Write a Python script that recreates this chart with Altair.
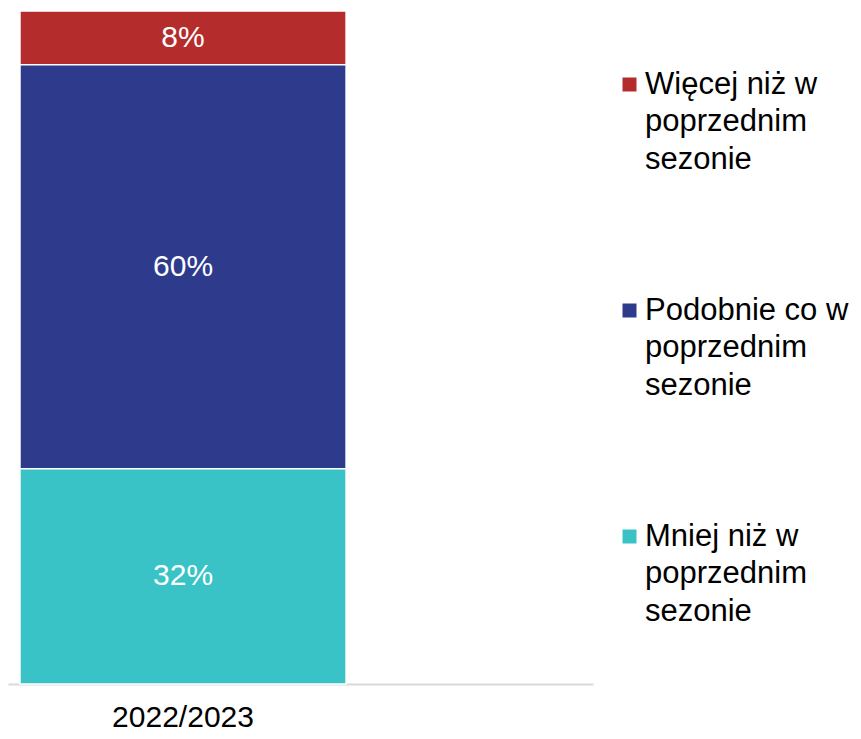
import altair as alt
import pandas as pd

season = ["2022/2023", "2022/2023", "2022/2023"]
categories = ["Więcej niż w\npoprzednim\nsezonie",
              "Podobnie co w\npoprzednim\nsezonie",
              "Mniej niż w\npoprzednim\nsezonie"]
values = [8, 60, 32]
stack_order = [3, 2, 1]
colors = ["#B52C2C", "#2E3A8C", "#3AC3C6"]
labels = ["8%", "60%", "32%"]

df = pd.DataFrame({"season": season, "cat": categories, "value": values,
                   "ord": stack_order, "label": labels})

base = alt.Chart(df).transform_stack(
    stack="value", groupby=["season"], as_=["v0", "v1"],
    sort=[alt.SortField("ord", order="ascending")]
).transform_calculate(mid="(datum.v0 + datum.v1) / 2")

xenc = alt.X("season:N",
             scale=alt.Scale(paddingInner=0, paddingOuter=0.397, align=0.0463),
             axis=alt.Axis(title=None, domainColor="#d9d9d9", domainWidth=2,
                           ticks=False, labelFontSize=30, labelColor="black",
                           labelAngle=0, labelPadding=18, labelFont="Liberation Sans"))
yscale = alt.Scale(domain=[0, 100], nice=False, zero=True)

bars = base.mark_bar(stroke="white", strokeWidth=1.5).encode(
    x=xenc,
    y=alt.Y("v0:Q", scale=yscale, axis=None),
    y2="v1:Q",
    color=alt.Color("cat:N",
                    scale=alt.Scale(domain=categories, range=colors),
                    legend=alt.Legend(title=None, orient="none", legendX=606, legendY=58,
                                      symbolType="square", symbolSize=196,
                                      symbolStrokeWidth=0, labelFontSize=31,
                                      labelFont="Liberation Sans", labelColor="black",
                                      labelLimit=400, labelOffset=0, rowPadding=119,
                                      labelBaseline="middle", padding=0,
                                      labelExpr="split(datum.label, '\\n')")),
)

text = base.mark_text(color="white", fontSize=30, font="Liberation Sans",
                      baseline="middle").encode(
    x=alt.X("season:N"),
    y=alt.Y("mid:Q", scale=yscale),
    text="label:N",
)

chart = alt.layer(bars, text).properties(
    width=585, height=673,
    padding={"left": 0, "top": 2, "right": 0, "bottom": 0},
).configure(
    style={"guide-label": {"lineHeight": 37.5}}
).configure_view(stroke=None)

chart.save("out.html", embed_options={"renderer": "svg", "actions": False})
